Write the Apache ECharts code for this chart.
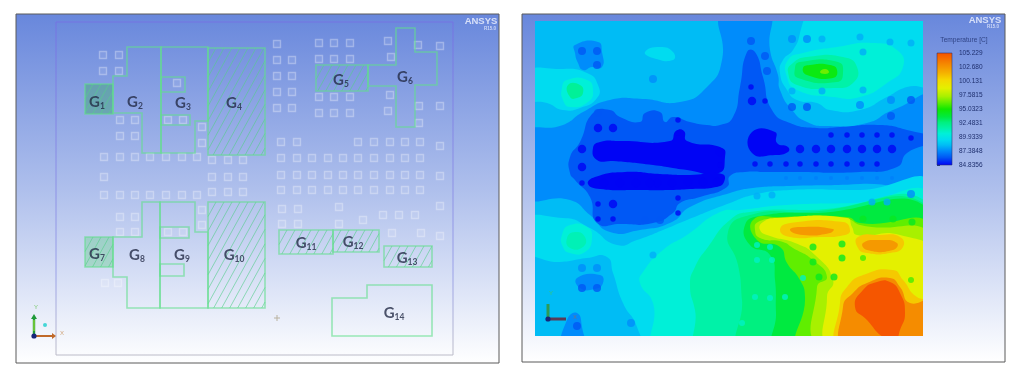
<!DOCTYPE html>
<html><head><meta charset="utf-8">
<style>html,body{margin:0;padding:0;background:#fff}#c{width:1015px;height:371px;filter:blur(.6px)}</style>
<script src="https://cdn.jsdelivr.net/npm/echarts@6/dist/echarts.min.js"></script></head>
<body><div id="c"></div>
<script>
// ---------- legend scale ----------
const legendTicks=[105.229,102.680,100.131,97.5815,95.0323,92.4831,89.9339,87.3848,84.8356];
const legendLabels=['105.229','102.680','100.131','97.5815','95.0323','92.4831','89.9339','87.3848','84.8356'];
const scaleTemps=[84.84,86.3,87.5,88.5,89.5,90.6,91.6,92.6,93.6,95.0,96.2,97.3,98.8,100.3,101.6,103,105.23];
const scaleColors=['#0000f5','#0058f5','#008cfb','#00bcf5','#00dcf0','#00f0d8','#00f2a8','#00f080','#00ea40','#10e800','#60ee00','#a8f000','#e4f000','#f5d800','#f5b000','#f58c00','#f55000'];
// ---------- left panel: geometry regions ----------
const regionsOutline=[
 [127,47,161,47,161,153,142,153,142,113,113,113,113,76,127,76],
 [161,47,208,47,208,121,195,121,195,153,161,153],
 [161,77,185,77,185,92,161,92],[161,115,190,115,190,125,161,125],
 [368,65,396,65,396,28,415,28,415,52,437,52,437,85,415,85,415,127,396,127,396,86,368,86],
 [142,202,160,202,160,308,127,308,127,277,113,277,113,237,142,237],
 [160,202,195,202,195,232,208,232,208,308,160,308],
 [160,227,189,227,189,238,160,238],[160,264,184,264,184,276,160,276],
 [332,298,367,298,367,285,432,285,432,336,332,336]];
const regionsHatched=[[208,48,265,155],[316,65,368,91],[208,202,265,308],[279,230,333,254],[333,230,379,252],[384,246,432,267],[85,84,113,114],[85,237,113,267]];
const regionsFilled=[[85,84,113,114],[85,237,113,267]];
const regionNames=['1','2','3','4','5','6','7','8','9','10','11','12','13','14'];
const regionLabelX=[97,135,183,234,341,405,97,137,182,234,306,353,407,394];
const regionLabelY=[102,102,103,103,80,77,254,255,255,255,243,242,258,313];
const pads=[103,55,119,55,103,71,119,71,120,120,135,120,120,136,135,136,177,83,168,120,183,120,202,127,202,143,
 104,157,120,157,135,157,150,157,166,157,182,157,197,157,212,160,228,160,243,160,104,177,212,177,228,177,243,177,
 104,195,120,195,135,195,150,195,166,195,182,195,197,195,212,192,228,192,243,192,202,210,202,225,120,217,135,217,120,232,135,232,168,232,183,232,
 277,44,277,60,292,60,277,76,292,76,277,92,292,92,277,108,292,108,319,43,334,43,350,43,319,59,334,59,350,59,319,97,334,97,350,97,319,113,334,113,350,113,
 388,41,391,57,418,45,440,46,390,95,388,111,419,106,440,106,419,123,
 281,142,297,142,358,142,374,142,390,142,405,142,420,142,440,146,
 281,158,297,158,312,158,328,158,343,158,358,158,374,158,390,158,405,158,420,158,
 281,175,297,175,312,175,328,175,343,175,358,175,374,175,390,175,405,175,420,175,440,176,
 281,190,297,190,312,190,328,190,343,190,358,190,374,190,390,190,405,190,420,190,
 282,209,298,209,339,207,440,206,383,215,399,215,415,215,363,220,282,224,298,224,339,224,392,233,421,233,440,236,105,283,118,283];
// ---------- right panel: isotherms [temperature, outline], painted in order ----------
const isotherms=[
 [88.5,[520,8,935,8,935,348,520,348]],
 [87.5,[525,135,563,125,583,112,610,100,643,99,680,102,707,87,722,60,723,10,767,10,770,50,778,75,780,90,792,110,807,122,827,126,867,123,893,110,935,98,935,178,860,184,790,186,753,188,730,193,690,207,672,222,640,230,610,232,590,215,570,200,525,195]],
 [86.3,[570,157,580,142,593,113,610,110,620,117,640,122,645,113,660,112,665,122,673,117,690,122,707,125,720,125,733,117,740,87,747,52,755,52,763,77,772,110,790,123,817,128,840,127,880,125,907,130,935,140,907,153,897,167,860,172,787,172,767,172,745,172,730,176,727,187,700,197,680,203,673,213,653,223,620,224,597,223,590,197,575,180,570,173]],
 [89.5,[525,225,563,218,590,228,617,245,637,240,663,230,687,220,730,203,753,195,790,190,860,190,935,188,935,348,525,348]],
 [88.5,[525,262,560,262,587,258,607,257,613,273,623,303,637,327,638,348,525,348]],
 [90.6,[935,200,853,203,787,205,740,210,720,212,687,235,663,250,643,272,640,283,653,303,660,348,935,348]],
 [91.6,[690,285,695,267,708,247,730,220,750,212,810,210,935,210,935,348,702,348,695,310]],
 [92.6,[745,348,742,300,738,265,728,232,750,215,800,212,935,213,935,348]],
 [93.6,[778,348,776,313,775,280,770,255,750,245,745,225,760,216,810,213,935,215,935,348]],
 [96.2,[753,220,757,240,780,247,787,263,800,280,805,297,803,348,935,348,935,230,860,223,847,217,780,217]],
 [97.3,[758,222,755,230,760,238,783,242,793,248,813,260,827,277,817,287,823,348,935,348,935,240,860,225,847,219,777,219]],
 [98.8,[763,222,777,218,847,218,852,227,857,235,900,235,935,257,935,348,833,348,827,297,833,280,815,255,795,243,770,236,760,230]],
 [100.8,[780,230,790,223,843,222,850,230,845,235,820,237,790,237]],
 [102.5,[790,230,800,227,833,229,830,233,803,235]],
 [100.8,[858,237,880,235,900,237,903,247,890,253,867,253,858,248]],
 [102.5,[863,243,880,240,897,243,893,250,867,250]],
 [100.8,[842,348,840,303,847,287,863,275,893,270,903,280,917,297,935,302,935,348]],
 [103,[847,348,843,307,853,293,867,283,890,278,900,287,910,303,935,300,935,348]],
 [105,[855,307,863,290,877,282,890,282,900,293,905,313,900,330,895,340,883,337,867,320]],
 [89.5,[788,8,802,10,800,33,793,50,783,60,780,73,787,90,797,100,817,103,830,110,860,110,887,97,907,87,935,83,935,8]],
 [90.6,[788,60,787,77,797,90,833,97,860,97,887,83,903,67,897,50,873,43,837,47,803,53]],
 [91.6,[793,63,788,72,797,85,833,88,853,83,857,67,843,57,807,57]],
 [92.8,[795,68,798,78,837,82,843,73,838,62,800,62]],
 [94.6,[803,68,807,75,833,78,837,70,830,65,810,65]],
 [96.4,[820,72,825,69,829,72,825,74]],
 [89.5,[525,73,560,69,587,73,598,85,597,98,580,108,563,110,547,103,525,98]],
 [90.6,[562,88,567,80,587,80,593,90,588,102,570,107,563,100]],
 [92,[568,85,580,85,583,93,577,98,570,97]],
 [89.5,[645,52,660,47,673,52,673,60,653,58]],
 [87.5,[575,45,598,42,602,52,602,67,592,67,583,70,578,63,575,53]],
 [90.6,[562,235,570,225,587,227,592,238,585,252,570,253,563,247]],
 [91.3,[567,238,575,232,585,237,583,247,570,248]],
 [87.5,[577,278,600,275,603,283,595,289,580,288]],
 [87.5,[563,348,567,320,577,313,582,327,583,348]],
 [84.9,[593,148,600,142,620,141,670,141,676,131,684,131,687,141,722,148,725,157,719,173,687,170,653,165,613,161,597,160]],
 [84.9,[595,177,625,172,660,174,690,175,722,174,724,182,716,187,690,189,670,190,640,190,600,189,588,184]],
 [84.9,[752,132,775,132,777,143,788,147,788,152,775,155,752,153]]];
// ---------- right panel: spots over components, one list per temperature ----------
const spotsDeepLarge=[598,128,613,128,582,149,582,167,752,101,800,149,816,149,831,149,847,149,862,149,877,149,892,149,613,204,720,152,657,183,672,183,688,182,703,182,717,182,604,183,620,183,636,183,650,183];
const spotsDeepSmall=[678,120,678,133,582,183,751,87,765,101,831,135,847,135,862,135,877,135,892,135,911,138,755,164,770,164,786,164,800,164,816,164,831,164,847,164,862,164,877,164,598,204,598,219,613,219,678,198,678,213,720,165];
const spotsMid=[582,51,597,51,597,65,598,113,751,41,765,56,767,71,792,107,807,107,911,100,891,116,645,220,660,220,582,288,597,288,577,326];
const spotsBlue=[653,79,582,268,597,268,631,323,792,39,807,39,860,105,891,100,911,165,911,194];
const spotsBlueFine=[786,178,800,178,816,178,831,178,847,178,862,178,877,178,892,178];
const spotsSky=[822,39,860,37,890,42,911,43,863,52,792,91,822,91,863,90,653,255,757,196,772,195,872,202,887,202];
const spotsTeal=[757,245,770,247,757,260,772,260,755,297,770,298,785,297,742,323,803,278];
const spotsGreen=[813,247,842,244,813,262,842,258,819,277,834,277,863,219,893,219,912,222];
const spotsLime=[863,258,911,280];
// ---------- helpers ----------
const hex=c=>[1,3,5].map(i=>parseInt(c.substr(i,2),16));
function tempColor(t){let i=0;while(i<scaleTemps.length-2&&t>scaleTemps[i+1])i++;
 const k=Math.max(0,Math.min(1,(t-scaleTemps[i])/(scaleTemps[i+1]-scaleTemps[i])));const a=hex(scaleColors[i]),b=hex(scaleColors[i+1]);
 return 'rgb('+a.map((v,j)=>Math.round(v+(b[j]-v)*k)).join(',')+')';}
const pairs=f=>{const o=[];for(let i=0;i<f.length;i+=2)o.push([f[i],f[i+1]]);return o;};
const ax=(i,min,max,inv)=>({gridIndex:i,type:'value',min,max,inverse:!!inv,show:false});
const chart=echarts.init(document.getElementById('c'),null,{renderer:'canvas'});
const panelBg=()=>new echarts.graphic.LinearGradient(0,0,0,1,[{offset:0,color:'#6887dc'},{offset:.5,color:'#aebfec'},{offset:1,color:'#ffffff'}]);
function spotSeries(list,t,d){return{type:'scatter',xAxisIndex:2,yAxisIndex:2,data:pairs(list),symbolSize:d,silent:true,clip:true,
 itemStyle:{color:tempColor(t)},z:5};}
function hatchLines(api,r){const [x0,y0,x1,y1]=r;const out=[];const k=.55,step=8;
 for(let c=x0-(y1-y0)*k;c<x1;c+=step){
  let ya=y1,xa=c,xb=c+(y1-y0)*k,yb=y0;
  if(xa<x0){ya=y1-(x0-c)/k;xa=x0;}
  if(xb>x1){yb=y1-(x1-c)/k;xb=x1;}
  if(ya<=yb)continue;
  const p=api.coord([xa,ya]),q=api.coord([xb,yb]);
  out.push({type:'line',shape:{x1:p[0],y1:p[1],x2:q[0],y2:q[1]},style:{stroke:'rgba(85,205,140,.62)',lineWidth:1,fill:null}});}
 return out;}
const poly=(api,f,smooth,style)=>({type:'polygon',shape:{points:pairs(f).map(p=>api.coord(p)),smooth},style});
const outlineStyle={fill:null,stroke:'rgba(98,222,140,.62)',lineWidth:1.6};
const rectF=r=>[r[0],r[1],r[2],r[1],r[2],r[3],r[0],r[3]];
const seg=(api,a,b,color,w)=>{const p=api.coord(a),q=api.coord(b);return{type:'line',shape:{x1:p[0],y1:p[1],x2:q[0],y2:q[1]},style:{stroke:color,lineWidth:w}};};
const textPts=(xi,rows,style)=>({type:'scatter',xAxisIndex:xi,yAxisIndex:xi,symbolSize:0,silent:true,z:9,clip:false,data:rows,label:Object.assign({show:true,position:'inside',formatter:p=>p.data[2]},style)});
const option={animation:false,backgroundColor:'#fff',
 grid:[
  {left:16,top:14,width:483,height:349,show:true,backgroundColor:panelBg(),borderColor:'#5a5a5a',borderWidth:1},
  {left:522,top:14,width:483,height:348,show:true,backgroundColor:panelBg(),borderColor:'#5a5a5a',borderWidth:1},
  {left:535,top:21,width:388,height:315},
  {left:937,top:53,width:15,height:112}],
 xAxis:[ax(0,16,499),ax(1,522,1005),ax(2,535,923),{gridIndex:3,type:'value',min:0,max:1,show:false}],
 yAxis:[ax(0,14,363,true),ax(1,14,362,true),ax(2,21,336,true),
  {gridIndex:3,type:'value',min:84.8356,max:105.229,position:'right',axisLine:{show:false},splitLine:{show:false},
   axisTick:{show:true,length:3,lineStyle:{color:'#27407f',width:1},customValues:legendTicks},
   axisLabel:{show:true,customValues:legendTicks,formatter:v=>legendLabels[legendTicks.indexOf(v)],fontSize:6.5,color:'#1e2f6e',margin:7,fontFamily:'Liberation Sans'}}],
 series:[
  {type:'scatter',xAxisIndex:0,yAxisIndex:0,data:pairs(pads),symbol:'rect',symbolSize:7,silent:true,z:2,
   itemStyle:{color:'rgba(255,255,255,.1)',borderColor:'rgba(255,255,255,.38)',borderWidth:1.4}},
  {type:'custom',xAxisIndex:0,yAxisIndex:0,data:[0],silent:true,z:3,renderItem:(p,api)=>{
    const tl=api.coord([56,22]),br=api.coord([453,355]);
    const grad=new echarts.graphic.LinearGradient(0,0,0,1,[{offset:0,color:'#7472e2'},{offset:.75,color:'#9aa0e8'},{offset:1,color:'#bdbdc8'}]);
    const kids=[{type:'rect',shape:{x:tl[0],y:tl[1],width:br[0]-tl[0],height:br[1]-tl[1]},style:{fill:null,stroke:grad,lineWidth:1}}];
    regionsFilled.forEach((r,i)=>kids.push(poly(api,rectF(r),0,{fill:i?'rgba(95,205,135,.38)':'rgba(70,165,125,.5)',stroke:null})));
    regionsHatched.forEach(r=>{hatchLines(api,r).forEach(l=>kids.push(l));kids.push(poly(api,rectF(r),0,outlineStyle));});
    regionsOutline.forEach(f=>kids.push(poly(api,f,0,outlineStyle)));
    kids.push(seg(api,[34,336],[34,317],'#1f9a3a',2.4),seg(api,[34,331],[34,320],'#9be03a',1.2),seg(api,[34,336],[52,336],'#c0692a',2));
    kids.push(poly(api,[52,333,56,336,52,339],0,{fill:'#c0692a'}),poly(api,[31,319,34,314,37,319],0,{fill:'#1f9a3a'}));
    kids.push({type:'circle',shape:{cx:api.coord([34,336])[0],cy:api.coord([34,336])[1],r:2.6},style:{fill:'#16257a'}});
    kids.push({type:'circle',shape:{cx:api.coord([45,325])[0],cy:api.coord([45,325])[1],r:2},style:{fill:'#45d6d6'}});
    kids.push(seg(api,[274,318],[280,318],'#b9b2a0',1),seg(api,[277,315],[277,321],'#b9b2a0',1));
    return{type:'group',children:kids};}},
  textPts(0,regionNames.map((n,i)=>[regionLabelX[i],regionLabelY[i],n]),{
    formatter:p=>'{g|G}{s|'+p.data[2]+'}',rich:{g:{fontFamily:'Lato',fontSize:15,color:'#232a46',fontWeight:'bold'},s:{fontFamily:'Lato',fontSize:8.5,color:'#232a46',fontWeight:'bold',padding:[8,0,0,0]}}}),
  textPts(0,[[36,307,'Y']],{fontSize:6,color:'#5fbf4a',fontFamily:'Liberation Sans'}),
  textPts(0,[[62,333,'X']],{fontSize:6,color:'#c8915a',fontFamily:'Liberation Sans'}),
  textPts(0,[[481,21,'ANSYS']],{fontSize:9.5,fontWeight:'bold',color:'#f2f5ff',fontFamily:'Liberation Sans'}),
  textPts(0,[[490,29,'R15.0']],{fontSize:4.5,fontWeight:'bold',color:'#e4eafc',fontFamily:'Liberation Sans'}),
  {type:'custom',xAxisIndex:2,yAxisIndex:2,data:isotherms.map((o,i)=>[i]),silent:true,clip:true,z:4,renderItem:(p,api)=>{
    const o=isotherms[p.dataIndex];return poly(api,o[1],.55,{fill:tempColor(o[0]),stroke:null});}},
  spotSeries(spotsBlue,87.5,8),spotSeries(spotsBlueFine,87.2,4),spotSeries(spotsSky,88.2,7),spotSeries(spotsMid,86.3,8),
  spotSeries(spotsDeepLarge,84.9,8.5),spotSeries(spotsDeepSmall,84.9,5.5),
  spotSeries(spotsTeal,91,6),spotSeries(spotsGreen,94.3,7),spotSeries(spotsLime,95.8,6),
  {type:'custom',xAxisIndex:2,yAxisIndex:2,data:[0],silent:true,clip:false,z:7,renderItem:(p,api)=>({type:'group',children:[
    seg(api,[548,319],[548,304],'#2e9a55',3),seg(api,[548,319],[566,319],'#5a3a55',3),
    {type:'circle',shape:{cx:api.coord([548,319])[0],cy:api.coord([548,319])[1],r:2.6},style:{fill:'#16257a'}}]})},
  textPts(2,[[551,293,'Y']],{fontSize:6,color:'#45c85a',fontFamily:'Liberation Sans'}),
  textPts(2,[[575,317,'X']],{fontSize:6,color:'#8a6a6a',fontFamily:'Liberation Sans'}),
  textPts(1,[[985,20,'ANSYS']],{fontSize:9.5,fontWeight:'bold',color:'#f2f5ff',fontFamily:'Liberation Sans'}),
  textPts(1,[[993,27,'R15.0']],{fontSize:4.5,fontWeight:'bold',color:'#e4eafc',fontFamily:'Liberation Sans'}),
  textPts(1,[[964,40,'Temperature [C]']],{fontSize:6.6,color:'#1e2f6e',fontFamily:'Liberation Sans'}),
  {type:'custom',xAxisIndex:3,yAxisIndex:3,data:[0],silent:true,z:4,renderItem:(p,api)=>{
    const a=api.coord([0,105.229]),b=api.coord([1,84.8356]);const lo=84.8356,hi=105.229;
    const stops=scaleTemps.map((t,i)=>({offset:Math.max(0,Math.min(1,(hi-t)/(hi-lo))),color:scaleColors[i]})).reverse();
    return{type:'rect',shape:{x:a[0],y:a[1],width:b[0]-a[0],height:b[1]-a[1]},style:{fill:new echarts.graphic.LinearGradient(0,0,0,1,stops),stroke:'rgba(40,50,110,.55)',lineWidth:1}};}}
 ]};
chart.setOption(option);
</script></body></html>
